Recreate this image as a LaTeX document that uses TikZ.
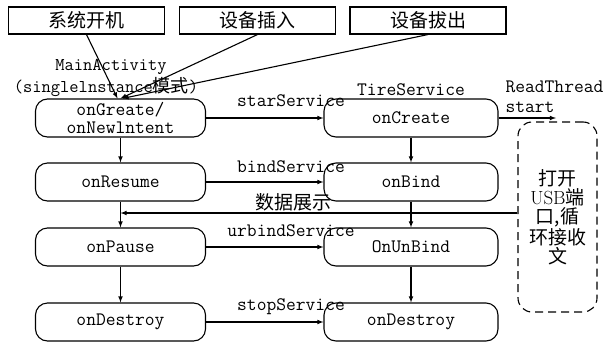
\documentclass[tikz,border=0pt]{standalone}
\usepackage{fontspec}
\newfontfamily\cjk{Noto Sans CJK SC}
\usepackage{tikz}
\usetikzlibrary{positioning}

\tikzset{
	stbox/.style={draw, rounded corners=12pt, minimum width=170pt, minimum height=38pt,
		inner sep=0pt, align=center, font=\ttfamily\fontsize{19}{18}\selectfont},
	evbox/.style={draw, minimum width=156pt, minimum height=27pt, inner sep=0pt,
		font=\cjk\fontsize{19}{20}\selectfont},
	lbl/.style={inner sep=0pt, font=\ttfamily\fontsize{19}{20}\selectfont},
	cnlbl/.style={inner sep=0pt, font=\cjk\fontsize{19}{20}\selectfont},
}

\begin{document}
\begin{tikzpicture}[x=1pt, y=-1pt, line width=1.1pt, >=latex]
		\useasboundingbox (0,0) rectangle (612,343);
		% events on top
		\node[evbox] (boot) at (86.5,20.5) {系统开机};
		\node[evbox] (plugin) at (257.5,20.5) {设备插入};
		\node[evbox] (plugout) at (428,20.5) {设备拔出};
		% activity side
		\node[stbox] (acreate) at (120.5,118) {onGreate/\\onNewlntent};
		\node[stbox] (aresume) at (120.5,182) {onResume};
		\node[stbox] (apause) at (120.5,247) {onPause};
		\node[stbox] (adestroy) at (120.5,322) {onDestroy};
		% service side
		\node[stbox, minimum width=174pt] (screate) at (411,118) {onCreate};
		\node[stbox, minimum width=174pt] (sbind) at (411,182) {onBind};
		\node[stbox, minimum width=174pt] (sunbind) at (411,247) {OnUnBind};
		\node[stbox, minimum width=174pt] (sdestroy) at (411,322) {onDestroy};
		% read thread
		\node[draw, dashed, dash pattern=on 8pt off 5pt, rounded corners=14pt,
			minimum width=79pt, minimum height=190pt, inner sep=0pt, align=center,
			font=\cjk\fontsize{19}{19}\selectfont] (usb) at (557.5,217)
			{打开\\{\rmfamily USB}端\\口,循\\环接收\\文};
		% titles
		\node[lbl, font=\ttfamily\fontsize{18}{20}\selectfont] (mainact) at (111,67) {MainActivity};
		\node[inner sep=0pt, font=\ttfamily\fontsize{18}{20}\selectfont] (single) at (106,87)
			{(singlelnstance{\cjk\fontsize{18}{20}\selectfont 模式})};
		\node[lbl, above=2pt of screate] (tire) {TireService};
		\node[lbl, align=left, anchor=west] (rthread) at (505,97) {ReadThread\\start};
		% events to activity
		\draw[->] (boot.south) -- ([xshift=-3pt]acreate.north);
		\draw[->] (plugin.south) -- (acreate.north);
		\draw[->] (plugout.south) -- ([xshift=2pt]acreate.north);
		% lifecycle
		\draw[->] (acreate) -- (aresume);
		\draw[->] (aresume) -- (apause);
		\draw[->] (apause) -- (adestroy);
		\draw[->] (screate) -- (sbind);
		\draw[->] (sbind) -- (sunbind);
		\draw[->] (sunbind) -- (sdestroy);
		% calls to service
		\draw[->] (acreate) -- (screate);
		\draw[->] (aresume) -- (sbind);
		\draw[->] (apause) -- (sunbind);
		\draw[->] (adestroy) -- (sdestroy);
		\node[lbl] (l1) at (291,101) {starService};
		\node[lbl] (l2) at (291,167) {bindService};
		\node[lbl] (l3) at (291,231) {urbindService};
		\node[lbl] (l4) at (291,307) {stopService};
		% thread start and data back
		\coordinate (rt) at (556,118);
		\draw[->] (screate.east) -- (rt);
		\coordinate (show) at (120.5,213);
		\draw[->] (usb.west |- show) -- (show);
		\node[cnlbl] (l5) at (293,202) {数据展示};
\end{tikzpicture}
\end{document}
